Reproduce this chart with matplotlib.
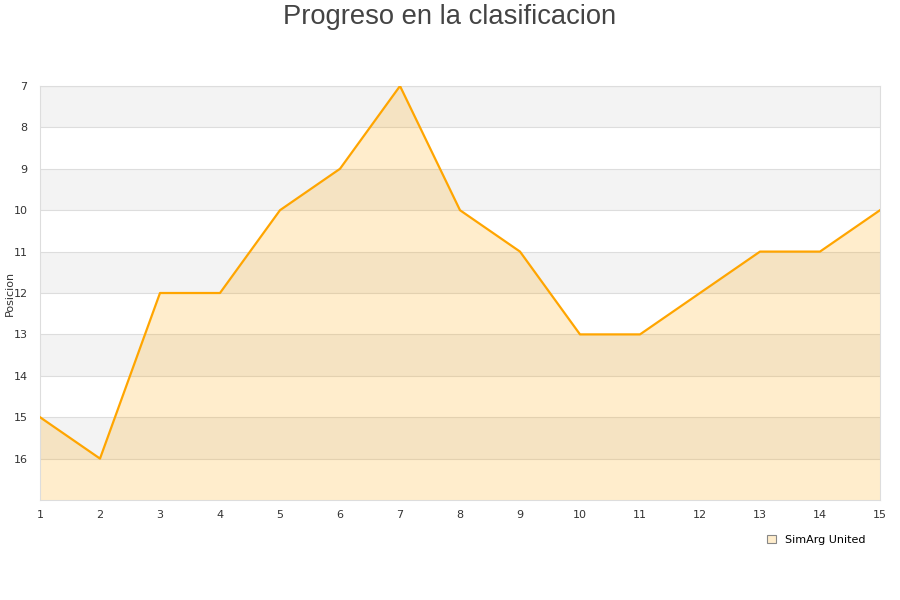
import matplotlib.pyplot as plt
from matplotlib.patches import Patch

jornadas = list(range(1, 16))
posicion = [15, 16, 12, 12, 10, 9, 7, 10, 11, 13, 13, 12, 11, 11, 10]
y_ticks = list(range(7, 17))
team = "SimArg United"

fig = plt.figure(figsize=(9, 6), dpi=100)
ax = fig.add_axes([40 / 900, 100 / 600, 840 / 900, 414 / 600])

# alternating bands
for v in range(7, 17):
    if (v - 7) % 2 == 0:
        ax.axhspan(v, v + 1, color="#f3f3f3", zorder=0, lw=0)
    ax.axhline(v, color="#dddddd", lw=0.8, zorder=1)

ax.fill_between(jornadas, posicion, 17, color="#FFA500", alpha=0.2, lw=0, zorder=2)
ax.plot(jornadas, posicion, color="#FFA500", lw=1.6, zorder=3)

ax.set_xlim(1, 15)
ax.set_ylim(17, 7)
ax.set_yticks(y_ticks)
ax.set_xticks(jornadas)
ax.tick_params(axis="x", length=0, labelsize=8, colors="#333333", pad=7)
ax.tick_params(axis="y", length=0, labelsize=8, colors="#333333", pad=9)
for s in ax.spines.values():
    s.set_color("#dddddd")
ax.set_ylabel("Posicion", fontsize=8, color="#333333")
ax.yaxis.set_label_coords(-25 / 840, 0.5)

fig.text(0.5, 1 - 17 / 600, "Progreso en la clasificacion", ha="center", va="center",
         fontsize=19.7, color="#444444", family="Liberation Sans")

leg = fig.legend(handles=[Patch(facecolor="#FFEDCC", edgecolor="#888888", lw=0.8, label=team)],
                 loc="lower right", bbox_to_anchor=(875 / 900, 45 / 600), frameon=False,
                 fontsize=8, handlelength=0.8, handleheight=0.8)

fig.savefig("out.png", dpi=100)
